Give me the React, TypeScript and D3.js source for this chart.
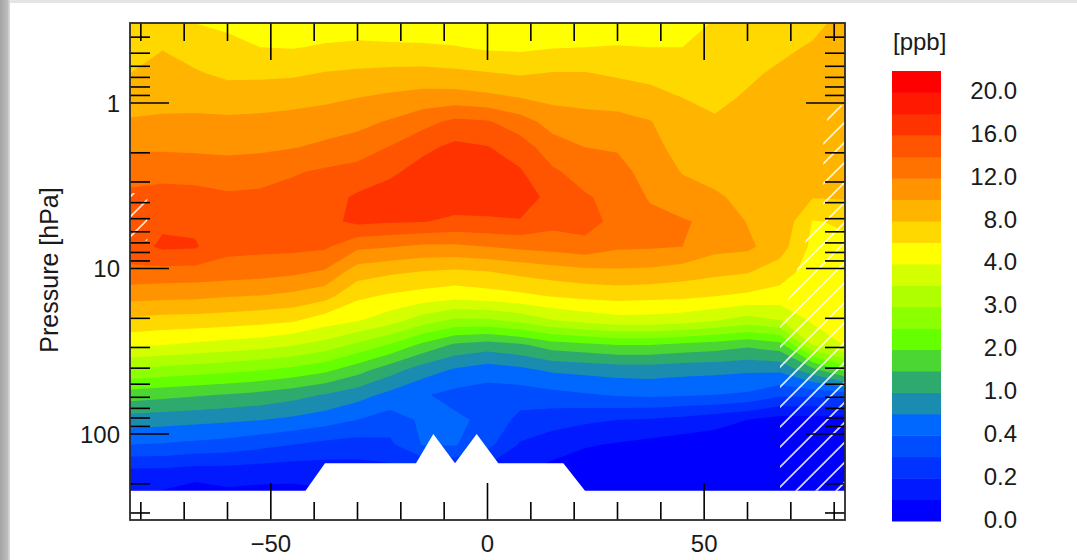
import React from 'react';
import * as d3 from 'd3';

// grid of the zonal mean field: latitude (deg) and pressure (hPa), top to bottom
const latitudes = [-82.5, -75, -67.5, -60, -52.5, -45, -37.5, -30, -22.5, -15, -7.5, 0, 7.5, 15, 22.5, 30, 37.5, 45, 52.5, 60, 67.5, 75, 82.5];
const pressures = [0.33, 0.46, 0.66, 0.93, 1.3, 1.85, 2.6, 3.7, 5.2, 7.4, 10.4, 14.7, 20.7, 29, 41, 58, 82, 116, 164, 232, 330];

// mixing ratio [ppb], one row per pressure level
const vmr = [
  [6.8, 6.8, 6.0, 5.6, 5.0, 5.0, 5.0, 4.8, 4.6, 4.6, 4.6, 4.6, 4.7, 4.8, 4.9, 4.9, 5.0, 5.0, 6.2, 6.6, 7.1, 7.5, 8.6],
  [7.4, 7.9, 7.1, 6.6, 6.0, 5.9, 6.2, 6.5, 6.4, 6.3, 6.1, 5.7, 5.6, 5.9, 6.0, 6.1, 6.0, 6.0, 6.7, 7.2, 7.6, 8.2, 8.8],
  [8.0, 8.7, 8.2, 7.6, 7.6, 7.7, 8.1, 8.3, 8.5, 8.6, 8.4, 8.1, 7.8, 8.1, 8.1, 7.7, 7.4, 7.0, 7.2, 7.7, 8.3, 8.6, 8.9],
  [9.1, 9.4, 9.3, 9.0, 9.1, 9.3, 9.6, 10.0, 10.4, 10.8, 10.9, 10.5, 10.0, 9.5, 9.4, 9.2, 8.7, 8.0, 7.6, 8.2, 8.7, 8.8, 8.9],
  [10.2, 10.3, 10.4, 10.4, 10.5, 10.7, 11.0, 11.4, 12.2, 13.3, 14.5, 14.2, 12.9, 11.2, 10.7, 10.6, 10.1, 8.7, 8.2, 8.5, 9.0, 8.9, 8.8],
  [11.7, 11.7, 11.6, 11.5, 11.6, 11.9, 12.4, 13.0, 14.1, 15.5, 16.5, 16.1, 15.0, 12.9, 12.0, 11.8, 10.6, 9.3, 8.8, 8.9, 9.2, 8.8, 8.7],
  [13.3, 13.3, 13.2, 13.0, 13.2, 13.8, 14.3, 14.7, 15.6, 16.8, 17.4, 16.9, 16.2, 14.3, 13.2, 12.7, 11.2, 9.9, 9.5, 9.2, 9.4, 8.6, 8.5],
  [14.4, 14.8, 14.7, 14.3, 14.4, 14.7, 15.2, 16.3, 17.0, 17.2, 17.1, 17.1, 16.8, 15.5, 14.2, 13.4, 11.8, 10.8, 10.2, 9.6, 9.5, 8.1, 8.2],
  [15.1, 15.7, 15.6, 15.0, 15.1, 15.4, 15.4, 16.5, 16.2, 16.1, 15.6, 15.7, 15.9, 14.7, 15.0, 13.2, 12.6, 12.2, 11.5, 9.9, 9.6, 5.9, 6.2],
  [15.2, 16.3, 16.2, 14.6, 14.5, 14.5, 14.3, 12.4, 12.1, 11.6, 11.6, 12.0, 12.4, 12.7, 13.2, 12.3, 12.2, 12.0, 10.6, 10.4, 8.9, 5.5, 5.7],
  [13.5, 13.4, 13.3, 13.1, 12.9, 12.5, 11.8, 9.0, 8.4, 8.0, 7.7, 8.0, 8.6, 9.1, 9.5, 9.7, 9.6, 9.1, 8.6, 8.2, 7.0, 5.1, 5.3],
  [10.7, 10.5, 10.4, 10.1, 9.9, 9.5, 8.7, 6.4, 5.7, 5.2, 4.7, 5.1, 5.5, 6.1, 6.5, 6.7, 6.5, 6.4, 6.0, 5.6, 5.2, 4.7, 4.9],
  [7.5, 7.2, 7.1, 6.9, 6.6, 6.2, 4.9, 4.1, 3.7, 3.23, 2.88, 2.89, 3.12, 3.45, 3.64, 3.79, 3.79, 3.7, 3.51, 3.27, 3.47, 4.3, 4.5],
  [4.3, 4.0, 3.9, 3.8, 3.7, 3.53, 3.3, 2.88, 2.45, 1.87, 1.41, 1.26, 1.41, 1.75, 1.86, 2.0, 2.0, 1.87, 1.77, 1.6, 1.8, 3.49, 4.1],
  [2.92, 2.83, 2.74, 2.64, 2.52, 2.36, 2.12, 1.7, 1.2, 0.85, 0.66, 0.55, 0.63, 0.75, 0.79, 0.83, 0.84, 0.8, 0.78, 0.75, 0.76, 1.34, 2.14],
  [1.75, 1.66, 1.56, 1.47, 1.36, 1.19, 0.98, 0.82, 0.62, 0.43, 0.37, 0.35, 0.35, 0.37, 0.39, 0.43, 0.46, 0.43, 0.4, 0.385, 0.32, 0.32, 0.35],
  [0.86, 0.82, 0.79, 0.75, 0.71, 0.64, 0.54, 0.4, 0.35, 0.45, 0.45, 0.38, 0.27, 0.24, 0.22, 0.2, 0.19, 0.17, 0.14, 0.1, 0.06, 0.06, 0.05],
  [0.4, 0.39, 0.375, 0.36, 0.33, 0.3, 0.27, 0.257, 0.28, 0.42, 0.42, 0.33, 0.19, 0.15, 0.11, 0.09, 0.07, 0.05, 0.04, 0.03, 0.02, 0.05, 0.05],
  [0.19, 0.19, 0.17, 0.17, 0.16, 0.15, 0.155, 0.16, 0.17, 0.19, 0.2, 0.17, 0.12, 0.07, 0.04, 0.03, 0.03, 0.02, 0.02, 0.02, 0.01, 0.05, 0.05],
  [0.08, 0.08, 0.03, 0.07, 0.06, 0.06, 0.08, 0.1, 0.11, 0.13, 0.14, 0.11, 0.06, 0.03, 0.02, 0.02, 0.02, 0.01, 0.01, 0.01, 0.01, 0.05, 0.05],
  [0.06, 0.06, 0.02, 0.05, 0.05, 0.05, 0.05, 0.08, 0.09, 0.1, 0.11, 0.09, 0.04, 0.02, 0.01, 0.01, 0.01, 0.01, 0.01, 0.01, 0.01, 0.05, 0.05],
];

// contour levels [ppb] and band colours, bottom of the colour bar first
const levels = [0, 0.1, 0.2, 0.3, 0.4, 0.7, 1, 1.5, 2, 2.5, 3, 3.5, 4, 6, 8, 10, 12, 14, 16, 18, 20];
const bandColors = [
  '#0000ff', '#0019ff', '#0033ff', '#004dff', '#0068ff', '#1a8cb0', '#2eaa6e',
  '#4cd633', '#66ff00', '#8cff00', '#b0ff00', '#d4ff00', '#ffff00', '#ffd800',
  '#ffb400', '#ff9400', '#ff7200', '#ff5400', '#ff3300', '#ff1900', '#ff0000',
];

// lower edge of the valid data (white below)
const groundLat = [-82.5, -42, -37.5, -16.5, -12.5, -7.5, -2.5, 2.5, 17.5, 22.5, 82.5];
const groundP = [220, 220, 150, 150, 100, 150, 100, 150, 150, 220, 220];

// hatched areas
const hatchNorthLat = [82.5, 79, 77.5, 77.5, 73.5, 67.5, 67.5, 82.5];
const hatchNorthP = [1.03, 1.03, 1.7, 4.4, 6.7, 22.5, 220, 220];
const hatchSouthLat = [-82.5, -78.5, -78.5, -82.5];
const hatchSouthP = [3.5, 3.5, 6.8, 6.8];

const latTicks = d3.range(-80, 81, 10);
const latLabels = [-50, 0, 50];
const pLabels = [1, 10, 100];

const font = '"Liberation Sans", Arial, sans-serif';

export default function App() {
  const W = 1077, H = 560;
  const m = { left: 130, right: 845, top: 23, bottom: 520 };
  const pMin = 0.3285, pMax = 330.8;

  const x = d3.scaleLinear().domain([-82.5, 82.5]).range([m.left, m.right]);
  const y = d3.scaleLog().domain([pMin, pMax]).range([m.top, m.bottom]);

  // contour in "band index" space so the non-uniform levels blend evenly
  const toLevel = d3.scaleLinear().domain(levels).range(d3.range(levels.length));
  const nx = latitudes.length, ny = pressures.length;
  const grid = vmr.flat().map((v) => toLevel(v));
  const bands = d3.contours().size([nx, ny]).thresholds(d3.range(levels.length))(grid);

  const logP = pressures.map((p) => Math.log10(p));
  const along = (arr, c) => {
    const u = c - 0.5;
    const i = Math.max(0, Math.min(arr.length - 2, Math.floor(u)));
    return arr[i] + (u - i) * (arr[i + 1] - arr[i]);
  };
  const proj = d3.geoTransform({
    point: function (px, py) {
      this.stream.point(x(along(latitudes, px)), y(Math.pow(10, along(logP, py))));
    },
  });
  const path = d3.geoPath(proj);

  const poly = (lats, ps) => lats.map((l, i) => `${x(l)},${y(ps[i])}`).join(' ');
  const groundPts =
    poly(groundLat, groundP) + ` ${x(82.5) + 2},${m.bottom + 2} ${x(-82.5) - 2},${m.bottom + 2}`;

  const pTicks = [0.1, 1, 10, 100]
    .flatMap((d) => d3.range(1, 10).map((k) => ({ v: k * d, major: k === 1 })))
    .filter((t) => t.v >= pMin && t.v <= pMax);

  // colour bar
  const cb = d3.scaleLinear().domain([0, levels.length]).range([521, 71]);
  const fmt = d3.format('.1f');

  return (
    <svg width={W} height={H} style={{ position: 'absolute', left: 0, top: 0 }} fontFamily={font}>
      <defs>
        <linearGradient id="edge" x1="0" x2="1" y1="0" y2="0">
          <stop offset="0" stopColor="#a4a4a4" />
          <stop offset="0.75" stopColor="#bdbdbd" />
          <stop offset="1" stopColor="#e2e2e2" />
        </linearGradient>
        <clipPath id="plotClip">
          <rect x={m.left} y={m.top} width={m.right - m.left} height={m.bottom - m.top} />
        </clipPath>
        <pattern id="hatch" patternUnits="userSpaceOnUse" width="20" height="20" x="7" y="0">
          <path d="M-5,5 L5,-5 M0,20 L20,0 M15,25 L25,15" stroke="#ffffff" strokeWidth="1.7" />
        </pattern>
      </defs>
      <rect width={W} height={H} fill="#ffffff" />
      <rect x={0} y={0} width={W} height={3} fill="#e4e4e4" />
      <rect x={0} y={0} width={10} height={H} fill="url(#edge)" />

      <g clipPath="url(#plotClip)">
        {bands.map((b, i) => (
          <path key={i} d={path(b)} fill={bandColors[i]} />
        ))}
        <polygon points={groundPts} fill="#ffffff" />
        <polygon points={poly(hatchNorthLat, hatchNorthP)} fill="url(#hatch)" opacity={0.85} />
        <polygon points={poly(hatchSouthLat, hatchSouthP)} fill="url(#hatch)" opacity={0.85} />
      </g>

      <g stroke="#000000" strokeWidth={1.6}>
        {latTicks.map((t) => {
          const len = t % 50 === 0 ? 37 : 18;
          return (
            <g key={t}>
              <line x1={x(t)} x2={x(t)} y1={m.top} y2={m.top + len} />
              <line x1={x(t)} x2={x(t)} y1={m.bottom} y2={m.bottom - len} />
            </g>
          );
        })}
        {pTicks.map((t) => {
          const len = t.major ? 39 : 20;
          return (
            <g key={t.v}>
              <line x1={m.left} x2={m.left + len} y1={y(t.v)} y2={y(t.v)} />
              <line x1={m.right} x2={m.right - len} y1={y(t.v)} y2={y(t.v)} />
            </g>
          );
        })}
      </g>
      <rect x={m.left} y={m.top} width={m.right - m.left} height={m.bottom - m.top}
        fill="none" stroke="#2a2a2a" strokeWidth={1.8} />

      <g fontSize={24} fill="#1a1a1a">
        {latLabels.map((t) => (
          <text key={t} x={x(t)} y={552} textAnchor="middle">{d3.format('d')(t)}</text>
        ))}
        {pLabels.map((p) => (
          <text key={p} x={120} y={y(p)} textAnchor="end" dominantBaseline="central">{p}</text>
        ))}
      </g>
      <text transform="translate(58,270) rotate(-90)" textAnchor="middle" fontSize={25} fill="#1a1a1a">
        Pressure [hPa]
      </text>

      <g>
        {bandColors.map((c, i) => (
          <rect key={i} x={892} width={49} y={cb(i + 1)} height={cb(i) - cb(i + 1) + 0.5} fill={c} />
        ))}
      </g>
      <text x={893} y={50} fontSize={24} fill="#1a1a1a">[ppb]</text>
      <g fontSize={24} fill="#1a1a1a">
        {levels.map((v, i) =>
          i % 2 === 0 ? (
            <text key={i} x={1017} y={cb(i) - 2} textAnchor="end" dominantBaseline="central">{fmt(v)}</text>
          ) : null
        )}
      </g>
    </svg>
  );
}
